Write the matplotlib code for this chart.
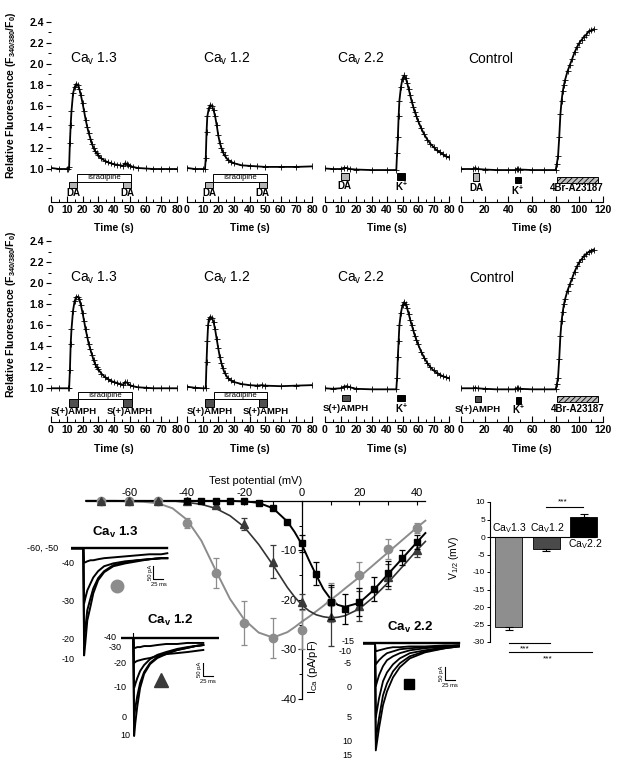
import matplotlib
matplotlib.use("Agg")
import matplotlib.pyplot as plt
from matplotlib.patches import Rectangle
from matplotlib.ticker import MultipleLocator
import numpy as np

plt.rcParams["font.family"] = ["Liberation Sans", "DejaVu Sans"]
plt.rcParams["mathtext.fontset"] = "custom"
plt.rcParams["mathtext.rm"] = "Liberation Sans"
plt.rcParams["mathtext.it"] = "Liberation Sans:italic"
plt.rcParams["mathtext.bf"] = "Liberation Sans:bold"
plt.rcParams["axes.unicode_minus"] = False
plt.rcParams["hatch.linewidth"] = 0.6

# ---------------- Ca imaging traces (time s, F340/380 / F0) ----------------
t13_da = [0, 5, 10, 11, 11.5, 12, 12.5, 13, 14, 15, 16, 17, 18, 19, 20, 21, 22, 23, 24, 25, 26, 27, 28, 29, 30,
          32, 34, 36, 38, 40, 42, 44, 46, 47, 48, 49, 50, 52, 55, 60, 65, 70, 75, 80]
f13_da = [1.01, 1.0, 1.0, 1.0, 1.02, 1.25, 1.42, 1.55, 1.72, 1.78, 1.81, 1.80, 1.76, 1.70, 1.63, 1.55, 1.47, 1.40,
          1.34, 1.29, 1.24, 1.20, 1.17, 1.15, 1.13, 1.10, 1.08, 1.065, 1.055, 1.045, 1.04, 1.035, 1.03, 1.055, 1.05,
          1.04, 1.03, 1.02, 1.01, 1.005, 1.0, 1.0, 1.0, 1.0]

t12_da = [0, 5, 10, 11.5, 12, 12.5, 13, 14, 15, 16, 17, 18, 19, 20, 21, 22, 23, 24, 26, 28, 30, 35, 40, 45, 50,
          60, 70, 80]
f12_da = [1.01, 1.0, 1.0, 1.0, 1.1, 1.35, 1.5, 1.58, 1.61, 1.6, 1.56, 1.5, 1.42, 1.32, 1.25, 1.2, 1.16, 1.13, 1.09,
          1.07, 1.055, 1.035, 1.03, 1.025, 1.02, 1.02, 1.02, 1.025]

t22_k = [0, 5, 10, 12, 14, 16, 20, 30, 40, 46, 46.5, 47, 47.5, 48, 49, 50, 51, 52, 53, 54, 55, 56, 57, 58, 59, 60,
         62, 64, 66, 68, 70, 72, 74, 76, 78, 80]
f22_k = [1.005, 1.0, 1.0, 1.01, 1.01, 1.0, 0.995, 0.99, 0.99, 0.99, 1.15, 1.3, 1.5, 1.65, 1.78, 1.86, 1.89, 1.87,
         1.82, 1.76, 1.70, 1.64, 1.59, 1.54, 1.50, 1.46, 1.39, 1.33, 1.28, 1.24, 1.21, 1.18, 1.16, 1.14, 1.12, 1.11]

tc_k = [0, 10, 12, 14, 20, 30, 40, 46, 47, 48, 50, 60, 70, 80, 81, 82, 83, 84, 85, 86, 87, 88, 90, 92, 94, 96, 98,
        100, 102, 104, 106, 108, 110, 112]
fc_k = [1.0, 1.0, 1.01, 1.0, 0.995, 0.99, 0.99, 0.99, 1.0, 1.0, 0.995, 0.99, 0.99, 0.99, 1.05, 1.12, 1.3, 1.52,
        1.65, 1.74, 1.80, 1.85, 1.93, 1.99, 2.05, 2.11, 2.16, 2.20, 2.23, 2.26, 2.28, 2.31, 2.32, 2.33]

t13_amph = [0, 5, 11, 11.5, 12, 12.5, 13, 14, 15, 16, 17, 18, 19, 20, 21, 22, 23, 24, 25, 26, 27, 28, 29, 30,
            32, 34, 36, 38, 40, 42, 44, 46, 47, 48, 50, 52, 55, 60, 65, 70, 75, 80]
f13_amph = [1.0, 1.0, 1.0, 1.0, 1.17, 1.42, 1.56, 1.74, 1.83, 1.87, 1.87, 1.85, 1.79, 1.72, 1.64, 1.56, 1.49, 1.42,
            1.37, 1.32, 1.27, 1.23, 1.20, 1.18, 1.14, 1.11, 1.09, 1.07, 1.06, 1.05, 1.04, 1.035, 1.06, 1.055, 1.03,
            1.02, 1.01, 1.005, 1.0, 1.0, 1.0, 1.0]

t12_amph = [0, 5, 10, 12, 12.5, 13, 13.5, 14, 15, 16, 17, 18, 19, 20, 21, 22, 23, 24, 26, 28, 30, 35, 40, 45, 48,
            50, 60, 70, 80]
f12_amph = [1.015, 1.005, 1.0, 1.0, 1.25, 1.45, 1.6, 1.66, 1.68, 1.67, 1.63, 1.56, 1.47, 1.38, 1.30, 1.24, 1.19,
            1.15, 1.10, 1.075, 1.06, 1.04, 1.03, 1.025, 1.03, 1.025, 1.02, 1.025, 1.03]

t22_amph = t22_k
f22_amph = [1.0, 0.995, 1.0, 1.015, 1.02, 1.01, 0.995, 0.99, 0.99, 0.99, 1.1, 1.3, 1.45, 1.6, 1.72, 1.79, 1.82,
            1.80, 1.76, 1.71, 1.65, 1.60, 1.55, 1.50, 1.46, 1.42, 1.35, 1.29, 1.24, 1.20, 1.17, 1.15, 1.13, 1.115,
            1.105, 1.095]

tc_amph = tc_k
fc_amph = [1.0, 1.0, 1.005, 1.0, 0.995, 0.99, 0.99, 0.99, 1.0, 1.005, 0.995, 0.99, 0.99, 0.99, 1.04, 1.1, 1.28,
           1.5, 1.64, 1.73, 1.80, 1.85, 1.93, 1.99, 2.05, 2.11, 2.16, 2.20, 2.23, 2.26, 2.28, 2.30, 2.31, 2.32]

# ---------------- I-V relationship (mV, pA/pF) ----------------
v13 = [-70, -60, -50, -40, -30, -20, -10, 0, 10, 20, 30, 40]
i13 = [0, 0, 0, -4.4, -14.6, -24.7, -27.7, -26.0, -20.5, -15.0, -9.7, -5.5]
e13 = [0, 0, 0, 1.0, 3.0, 4.4, 4.0, 4.0, 4.0, 2.6, 2.0, 1.0]

v12 = [-70, -60, -50, -40, -30, -20, -10, 0, 10, 20, 30, 40]
i12 = [0, 0, 0, 0, -0.9, -4.7, -12.3, -20.4, -23.4, -21.2, -15.3, -9.9]
e12 = [0, 0, 0, 0, 0.3, 1.2, 3.3, 1.5, 6.0, 3.0, 2.5, 1.5]

v22 = [-40, -35, -30, -25, -20, -15, -10, -5, 0, 5, 10, 15, 20, 25, 30, 35, 40]
i22 = [0, 0, 0, 0, 0, -0.5, -1.4, -4.2, -8.6, -14.7, -20.4, -21.8, -20.4, -17.8, -14.6, -11.5, -8.3]
e22 = [0, 0, 0, 0, 0, 0, 0, 0, 1.8, 2.3, 3.5, 3.0, 2.8, 2.5, 2.5, 1.5, 1.5]

v_fit = [-75, -70, -65, -60, -55, -50, -45, -40, -35, -30, -25, -20, -15, -10, -5, -2.5, 0, 2.5, 5, 7.5, 10,
         12.5, 15, 20, 25, 30, 35, 40, 43]
fit13 = [0, 0, 0, -0.1, -0.2, -0.5, -1.5, -3.8, -8, -14, -19.8, -24, -26.6, -27.6, -26.5, -25.5, -24.4, -23.4,
         -22.3, -21.2, -20, -18.9, -17.7, -15.4, -12.9, -10.4, -7.9, -5.4, -4]
fit12 = [0, 0, 0, 0, 0, 0, 0, -0.3, -0.7, -1.5, -3, -5.3, -8.8, -13, -17.5, -19.4, -21, -22.2, -23, -23.4, -23.6,
         -23.5, -23.2, -21.8, -19.4, -16.5, -13.3, -10, -8.2]
fit22 = [0, 0, 0, 0, 0, 0, 0, 0, 0, 0, 0, -0.1, -0.4, -1.5, -4.2, -6.3, -8.8, -12.0, -15, -17.8, -19.8, -21.0,
         -21.4, -20.6, -18, -14.8, -11.6, -8.4, -6.5]

# ---------------- example current traces (ms, pA) ----------------
tr13_t = [-30, 0, 2, 5, 10, 18, 25, 37, 52, 75, 105, 135, 165, 195, 210]
tr13 = {
    "-60": [0] * 15,
    "-40": [0, 0, 54, 54, 50, 46, 46, 42, 38, 35, 31, 27, 23, 23, 19],
    "-30": [0, 0, 212, 192, 162, 135, 112, 88, 69, 58, 50, 46, 42, 38, 38],
    "-20": [0, 0, 346, 308, 238, 192, 154, 115, 88, 65, 54, 46, 42, 38, 38],
    "-10": [0, 0, 412, 365, 277, 223, 173, 123, 92, 69, 58, 50, 42, 38, 38],
}
tr12_t = [-30, 0, 2, 5, 10, 17, 27, 42, 60, 82, 110, 135, 155, 175]
tr12 = {
    "-30": [0, 0, 38, 38, 35, 35, 31, 31, 27, 23, 23, 19, 19, 19],
    "-20": [0, 0, 96, 92, 88, 85, 81, 77, 69, 62, 58, 54, 50, 46],
    "-10": [0, 0, 192, 177, 154, 127, 104, 81, 65, 54, 42, 35, 31, 27],
    "0": [0, 0, 304, 269, 223, 173, 131, 96, 73, 58, 46, 38, 31, 27],
    "10": [0, 0, 377, 327, 262, 192, 138, 100, 77, 62, 46, 38, 31, 27],
}
tr12_hold_t = [-30, 212]
tr22_t = [-30, 0, 2, 10, 20, 30, 45, 62, 87, 125, 175, 210]
tr22 = {
    "-15": [0] * 12,
    "-10": [0, 0, 31, 27, 23, 19, 15, 15, 12, 12, 8, 8],
    "-5": [0, 0, 81, 65, 50, 38, 31, 23, 19, 15, 12, 8],
    "0": [0, 0, 165, 123, 88, 65, 50, 38, 27, 19, 12, 8],
    "5": [0, 0, 285, 212, 146, 112, 81, 58, 38, 27, 15, 12],
    "10": [0, 0, 373, 288, 200, 154, 108, 77, 50, 31, 19, 12],
    "15": [0, 0, 412, 327, 238, 185, 131, 92, 58, 35, 19, 12],
}

# ---------------- V1/2 summary ----------------
bar_names = ["Ca$_\\mathregular{V}$1.3", "Ca$_\\mathregular{V}$1.2", "Ca$_\\mathregular{V}$2.2"]
bar_vals = [-25.6, -3.3, 5.6]
bar_errs = [0.9, 0.7, 1.0]
bar_colors = ["#8e8e8e", "#4a4a4a", "#000000"]

W, H = 618, 767
fig = plt.figure(figsize=(W / 100, H / 100), dpi=100)
fig.patch.set_facecolor("white")


def px_axes(x0, y0, x1, y1):
    """Axes from a pixel box measured from the top-left corner."""
    return fig.add_axes([x0 / W, 1 - y1 / H, (x1 - x0) / W, (y1 - y0) / H])


def ftext(x, y, s, **kw):
    fig.text(x / W, 1 - y / H, s, **kw)


def box(ax, x0, x1, y0, y1, fc, hatch=None):
    ax.add_patch(Rectangle((x0, y0), x1 - x0, y1 - y0, facecolor=fc, edgecolor="black",
                           linewidth=0.7, hatch=hatch, clip_on=False, zorder=4))


def lab(ax, x, y, s, size=6.8):
    ax.text(x, y, s, ha="center", va="center", fontsize=size, fontweight="bold", clip_on=False)


def trace_panel(ax, t, f, xmax, major, minor, ylo, title, title_x, show_y):
    ax.plot(t, f, color="black", linewidth=1.3, marker="+", markersize=4.5, markeredgewidth=0.6, zorder=3)
    ax.set_xlim(0, xmax)
    ax.set_ylim(ylo, 2.42)
    for s in ("top", "right", "left"):
        ax.spines[s].set_visible(False)
    ax.spines["bottom"].set_bounds(0, xmax)
    ax.spines["bottom"].set_linewidth(0.8)
    ax.set_facecolor("none")
    ax.xaxis.set_major_locator(MultipleLocator(major))
    ax.xaxis.set_minor_locator(MultipleLocator(minor))
    ax.tick_params(axis="x", which="major", direction="in", length=4, width=0.8, labelsize=7.5, pad=2)
    ax.tick_params(axis="x", which="minor", direction="in", length=2, width=0.7)
    for tl in ax.get_xticklabels():
        tl.set_fontweight("bold")
    if show_y:
        ax.set_yticks(np.arange(1.0, 2.41, 0.2))
        ax.set_yticks(np.arange(1.1, 2.4, 0.2), minor=True)
        ax.tick_params(axis="y", which="major", direction="out", length=3.5, width=0.8, labelsize=7.5, pad=1.5)
        ax.tick_params(axis="y", which="minor", direction="out", length=2, width=0.7)
        ax.set_yticklabels([f"{v:.1f}" for v in np.arange(1.0, 2.41, 0.2)], fontweight="bold")
        ax.set_ylabel(r"Relative Fluorescence (F$_\mathbf{340/380}$/F$_\mathbf{0}$)",
                      fontsize=7.5, fontweight="bold")
        ax.yaxis.set_label_coords(-0.265, (1.7 - ylo) / (2.42 - ylo))
    else:
        ax.set_yticks([])
    ax.text(title_x, 2.05, title, fontsize=10, ha="left", va="center")
    ax.text(0.5, -0.145, "Time (s)", transform=ax.transAxes, ha="center", va="center",
            fontsize=7.5, fontweight="bold")


# --- rows of Ca imaging panels ---
cols = [(51, 177), (187, 312), (325, 449), (461, 603)]
rows = [(19.8, 202, 0.686), (239.1, 422, 0.679)]
titles = ["Ca$_\\mathregular{v}$ 1.3", "Ca$_\\mathregular{v}$ 1.2", "Ca$_\\mathregular{v}$ 2.2", "Control"]
title_x = [[12.1, 10.3, 7.7, 5.9], [12.1, 10.3, 7.5, 6.8]]
data_rows = [[(t13_da, f13_da), (t12_da, f12_da), (t22_k, f22_k), (tc_k, fc_k)],
             [(t13_amph, f13_amph), (t12_amph, f12_amph), (t22_amph, f22_amph), (tc_amph, fc_amph)]]

for r, (ytop, ybot, ylo) in enumerate(rows):
    for c, (x0, x1) in enumerate(cols):
        ax = px_axes(x0, ytop, x1, ybot)
        t, f = data_rows[r][c]
        ctrl = c == 3
        trace_panel(ax, t, f, 120 if ctrl else 80, 20 if ctrl else 10, 10 if ctrl else 5, ylo,
                    titles[c], title_x[r][c], c == 0)
        if r == 0:
            if c < 2:
                box(ax, 16.8, 51, 0.879, 0.952, "white")
                ax.text(33.9, 0.916, "Isradipine", ha="center", va="center", fontsize=5.6, zorder=5)
                box(ax, 11.4, 16.8, 0.816, 0.879, "#b4b4b4")
                box(ax, 45.9, 51, 0.816, 0.879, "#b4b4b4")
                lab(ax, 14.1, 0.772, "DA", 7)
                lab(ax, 48.5, 0.772, "DA", 7)
            elif c == 2:
                box(ax, 10, 15.5, 0.895, 0.96, "#b4b4b4")
                box(ax, 46.2, 51.6, 0.895, 0.96, "black")
                lab(ax, 12.7, 0.84, "DA", 7)
                lab(ax, 49, 0.835, r"K$^\mathbf{+}$", 7)
            else:
                box(ax, 10.4, 15.2, 0.886, 0.96, "#b4b4b4")
                box(ax, 45.6, 50.4, 0.864, 0.927, "black")
                box(ax, 80.8, 115.5, 0.87, 0.927, "#bdbdbd", hatch="//////")
                lab(ax, 12.8, 0.82, "DA", 7)
                lab(ax, 48, 0.80, r"K$^\mathbf{+}$", 7)
                lab(ax, 98, 0.816, "4Br-A23187", 7)
        else:
            if c < 2:
                box(ax, 17, 51.2, 0.898, 0.968, "white")
                ax.text(34.1, 0.933, "Isradipine", ha="center", va="center", fontsize=5.6, zorder=5)
                box(ax, 11.4, 17, 0.825, 0.898, "#4f4f4f")
                box(ax, 45.9, 51.2, 0.825, 0.898, "#4f4f4f")
                lab(ax, 14.4, 0.777, "S(+)AMPH")
                lab(ax, 50.2, 0.777, "S(+)AMPH")
            elif c == 2:
                box(ax, 10.8, 16.1, 0.88, 0.94, "#4f4f4f")
                box(ax, 46.2, 51.6, 0.88, 0.94, "black")
                lab(ax, 13.5, 0.81, "S(+)AMPH")
                lab(ax, 49, 0.81, r"K$^\mathbf{+}$", 7)
            else:
                box(ax, 11.8, 16.6, 0.87, 0.93, "#4f4f4f")
                box(ax, 46.5, 51, 0.855, 0.92, "black")
                box(ax, 81.5, 115.5, 0.87, 0.93, "#bdbdbd", hatch="//////")
                lab(ax, 14.2, 0.80, "S(+)AMPH")
                lab(ax, 48.7, 0.80, r"K$^\mathbf{+}$", 7)
                lab(ax, 98.5, 0.80, "4Br-A23187", 7)

# --- I-V curves ---
ax = px_axes(77.7, 486, 434, 708.9)
ax.set_xlim(-78, 46)
ax.set_ylim(-42, 3)
ax.set_facecolor("none")
ax.spines["right"].set_visible(False)
ax.spines["bottom"].set_visible(False)
ax.spines["left"].set_position(("data", 0))
ax.spines["left"].set_bounds(-40, 0)
ax.spines["top"].set_position(("data", 0))
ax.spines["top"].set_bounds(-75, 43)
for s in ("left", "top"):
    ax.spines[s].set_linewidth(0.9)
ax.xaxis.set_ticks_position("top")
ax.xaxis.set_label_position("top")
ax.set_xticks([-60, -40, -20, 0, 20, 40])
ax.set_xticks([-70, -50, -30, -10, 10, 30], minor=True)
ax.set_yticks([-40, -30, -20, -10])
ax.set_yticks([-35, -25, -15, -5], minor=True)
ax.tick_params(axis="x", which="both", direction="in", length=3, width=0.8, labelsize=8, pad=2)
ax.tick_params(axis="y", which="major", direction="out", length=3, width=0.8, labelsize=8, pad=1)
ax.tick_params(axis="y", which="minor", direction="out", length=2, width=0.7)
ax.set_xlabel("Test potential (mV)", fontsize=8, labelpad=3)
ax.text(3.9, -33.5, r"I$_{\mathregular{Ca}}$ (pA/pF)", rotation=90, ha="center", va="center", fontsize=8)

ax.plot(v_fit, fit13, color="#8c8c8c", linewidth=1.4, zorder=2)
ax.plot(v_fit, fit12, color="#333333", linewidth=1.2, zorder=3)
ax.plot(v_fit, fit22, color="black", linewidth=1.4, zorder=4)
ax.errorbar(v13, i13, yerr=e13, fmt="o", color="#8c8c8c", markersize=6, capsize=2.5, elinewidth=0.9,
            capthick=0.9, zorder=5)
ax.errorbar(v12, i12, yerr=e12, fmt="^", color="#3a3a3a", markersize=6, capsize=2.5, elinewidth=0.9,
            capthick=0.9, zorder=6)
ax.errorbar(v22, i22, yerr=e22, fmt="s", color="black", markersize=5, capsize=2.5, elinewidth=0.9,
            capthick=0.9, zorder=7)

# --- example current traces (0.4 px per ms, 0.26 px per pA) ---
def trace_inset(x0, y0, t_lo, t_hi, i_lo, i_hi):
    a = px_axes(x0 + t_lo * 0.4, y0 - i_hi * 0.26, x0 + t_hi * 0.4, y0 - i_lo * 0.26)
    a.set_xlim(t_lo, t_hi)
    a.set_ylim(i_lo, i_hi)
    a.axis("off")
    return a


def scale_bar(a, t0, i0):
    a.plot([t0, t0, t0 + 25], [i0 + 50, i0, i0], color="black", linewidth=0.8, clip_on=False)
    a.text(t0 - 8, i0 + 25, "50 pA", rotation=90, ha="center", va="center", fontsize=4.2)
    a.text(t0 + 13, i0 - 20, "25 ms", ha="center", va="center", fontsize=4.2)


a = trace_inset(83.3, 548.3, -30, 215, -440, 20)
for k, y in tr13.items():
    a.plot(tr13_t, [-v for v in y], color="black", linewidth=1.7 if k == "-60" else 1.4)
scale_bar(a, 175, -118)
a.plot([83.5], [-145], "o", color="#8c8c8c", markersize=9, clip_on=False)
ftext(115, 532, "Ca$_\\mathregular{v}$ 1.3", fontsize=9.5, fontweight="bold", ha="center", va="center")
for s, y in [("-60, -50", 548), ("-40", 563), ("-30", 601), ("-20", 640), ("-10", 660)]:
    ftext(75 if s != "-60, -50" else 58, y, s, fontsize=6.5, ha="right", va="center")

a = trace_inset(133.3, 638, -30, 215, -400, 20)
a.plot(tr12_hold_t, [0, 0], color="black", linewidth=1.7)
for k, y in tr12.items():
    a.plot(tr12_t, [-v for v in y], color="black", linewidth=1.4)
a.plot([0, 0], [0, 60], color="black", linewidth=0.8)
scale_bar(a, 173, -146)
a.plot([69], [-161], "^", color="#3a3a3a", markersize=10, clip_on=False)
ftext(170, 620, "Ca$_\\mathregular{v}$ 1.2", fontsize=9.5, fontweight="bold", ha="center", va="center")
for s, x, y in [("-40", 117, 638), ("-30", 122, 648), ("-20", 127, 663), ("-10", 127, 688), ("0", 127, 717),
                ("10", 130, 736)]:
    ftext(x, y, s, fontsize=6.5, ha="right", va="center")

a = trace_inset(375, 643.3, -30, 215, -440, 20)
for k, y in tr22.items():
    a.plot(tr22_t, [-v for v in y], color="black", linewidth=1.7 if k == "-15" else 1.3)
scale_bar(a, 175, -141)
a.plot([86], [-156], "s", color="black", markersize=7.5, clip_on=False)
ftext(410, 627, "Ca$_\\mathregular{v}$ 2.2", fontsize=9.5, fontweight="bold", ha="center", va="center")
for s, y in [("-15", 642), ("-10", 651), ("-5", 664), ("0", 687), ("5", 718), ("10", 741), ("15", 756)]:
    ftext(355 if s == "-15" else 352, y, s, fontsize=6.5, ha="right", va="center")

# --- V1/2 bar chart ---
ax = px_axes(490, 498.5, 604, 666.5)
ax.set_xlim(-0.5, 2.54)
ax.set_ylim(-37, 11)
ax.set_facecolor("none")
pos = np.arange(len(bar_vals))
ax.bar(pos, bar_vals, width=0.72, color=bar_colors, edgecolor="black", linewidth=0.6, zorder=2)
for p, v, e in zip(pos, bar_vals, bar_errs):
    yerr = [[e], [0]] if v < 0 else [[0], [e]]
    ax.errorbar([p], [v], yerr=yerr, fmt="none", ecolor="black", elinewidth=0.8, capsize=3, capthick=0.8,
                zorder=3)
for s in ("top", "right"):
    ax.spines[s].set_visible(False)
ax.spines["bottom"].set_position(("data", 0))
ax.spines["bottom"].set_bounds(-0.5, 2.3)
ax.spines["left"].set_bounds(-30, 10)
for s in ("left", "bottom"):
    ax.spines[s].set_linewidth(0.8)
ax.set_xticks([])
ax.set_yticks(np.arange(-30, 11, 5))
ax.tick_params(axis="y", direction="out", length=2.5, width=0.7, labelsize=6, pad=1)
ax.text(-1.45, -6, "V$_{\\mathregular{1/2}}$ (mV)", rotation=90, ha="center", va="center", fontsize=7.5)
ax.text(0, 2.6, bar_names[0], ha="center", va="center", fontsize=7.5)
ax.text(1.02, 2.6, bar_names[1], ha="center", va="center", fontsize=7.5)
ax.text(2.05, -2.0, bar_names[2], ha="center", va="center", fontsize=7.5)
ax.plot([1.0, 1.97], [8.5, 8.5], color="black", linewidth=0.8, clip_on=False)
ax.text(1.45, 10.0, "***", ha="center", va="center", fontsize=6)
ax.plot([0.0, 1.1], [-30.2, -30.2], color="black", linewidth=0.8, clip_on=False)
ax.text(0.43, -32.0, "***", ha="center", va="center", fontsize=6)
ax.plot([0.0, 2.22], [-32.9, -32.9], color="black", linewidth=0.8, clip_on=False)
ax.text(1.04, -34.8, "***", ha="center", va="center", fontsize=6)

fig.savefig("out.png", dpi=100, facecolor="white")
